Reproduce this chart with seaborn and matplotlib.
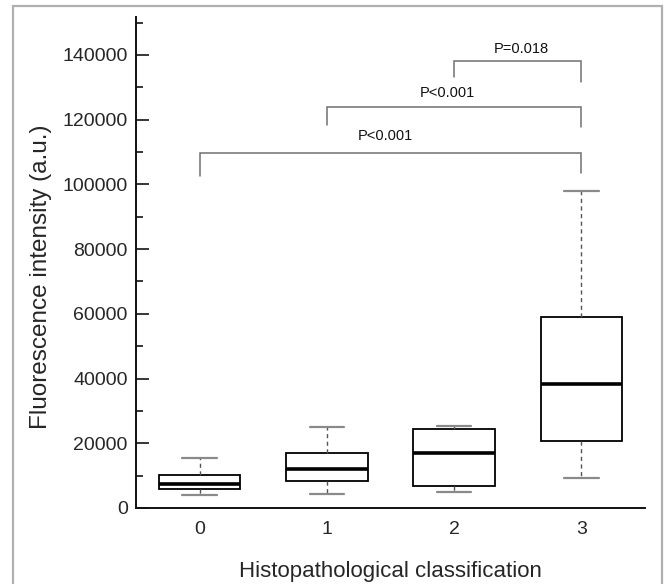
import numpy as np
import pandas as pd
import matplotlib
matplotlib.use("Agg")
import matplotlib.pyplot as plt
import seaborn as sns
from matplotlib.patches import Rectangle

# ---- data (five-number summaries) ----
categories = ["0", "1", "2", "3"]
grade0 = [4000, 5960, 7400, 10200, 15540]
grade1 = [4420, 8250, 12000, 16900, 24900]
grade2 = [4950, 6900, 17100, 24300, 25240]
grade3 = [9270, 20700, 38200, 59100, 97950]

# significance brackets: (left group, right group, bar height, left leg end, right leg end, label)
bracket_left = [0, 1, 2]
bracket_right = [3, 3, 3]
bracket_height = [109600, 124000, 138100]
bracket_left_end = [102600, 118350, 133100]
bracket_right_end = [103400, 117600, 131700]
bracket_labels = ["P<0.001", "P<0.001", "P=0.018"]
label_x = [1.46, 1.945, 2.53]
label_y = [114800, 128300, 141800]

yticks = [0, 20000, 40000, 60000, 80000, 100000, 120000, 140000]

df = pd.DataFrame({
    "grade": sum([[c] * 5 for c in categories], []),
    "value": grade0 + grade1 + grade2 + grade3,
})

sns.set_style("white")
plt.rcParams["font.family"] = ["Liberation Sans", "DejaVu Sans"]

fig = plt.figure(figsize=(6.66, 5.84), dpi=100)
ax = fig.add_axes([136 / 666, 1 - 508 / 584, (645 - 136) / 666, (508 - 17) / 584])

sns.boxplot(
    data=df, x="grade", y="value", order=categories, ax=ax,
    color="white", linecolor="black", width=0.64, whis=np.inf,
    linewidth=1.3, fliersize=0,
    whiskerprops=dict(linestyle=(0, (3, 2.5)), color="#555555", linewidth=1.0),
    capprops=dict(color="#8a8a8a", linewidth=1.6),
    medianprops=dict(color="black", linewidth=2.6),
    boxprops=dict(edgecolor="black", linewidth=1.3),
    capwidths=0.27,
)

bracket_color = "#707070"
for l, r, h, le, re_, lab, lx, ly in zip(bracket_left, bracket_right, bracket_height,
                                         bracket_left_end, bracket_right_end,
                                         bracket_labels, label_x, label_y):
    ax.plot([l, l, r, r], [le, h, h, re_], color=bracket_color, lw=1.1, solid_joinstyle="miter")
    ax.text(lx, ly, lab, ha="center", va="center", fontsize=10.5, color="#111111")

ax.set_xlim(-0.5, 3.5)
ax.set_ylim(0, 151700)
ax.set_yticks(yticks)
ax.set_yticklabels([str(v) for v in yticks])
ax.yaxis.set_minor_locator(matplotlib.ticker.MultipleLocator(10000))
ax.tick_params(axis="y", which="major", direction="in", length=9, width=1.3,
               labelsize=14, pad=6, left=True)
ax.tick_params(axis="y", which="minor", direction="in", length=5, width=1.3, left=True)
ax.tick_params(axis="x", length=0, labelsize=14, pad=9)

for s in ["top", "right"]:
    ax.spines[s].set_visible(False)
for s in ["left", "bottom"]:
    ax.spines[s].set_color("#111111")
    ax.spines[s].set_linewidth(1.4)

ax.set_xlabel("Histopathological classification", fontsize=16, labelpad=17)
ax.set_ylabel("Fluorescence intensity (a.u.)", fontsize=17.5)
ax.yaxis.label.set_verticalalignment("center")
ax.yaxis.set_label_coords((41 - 136) / 509, (508 - 277) / 491)

fig.patches.append(Rectangle((13 / 666, -0.05), (662 - 13) / 666, 1.05 - 6 / 584,
                             transform=fig.transFigure, fill=False,
                             edgecolor="#b0b0b0", linewidth=1.6))

fig.savefig("out.png", dpi=100)
